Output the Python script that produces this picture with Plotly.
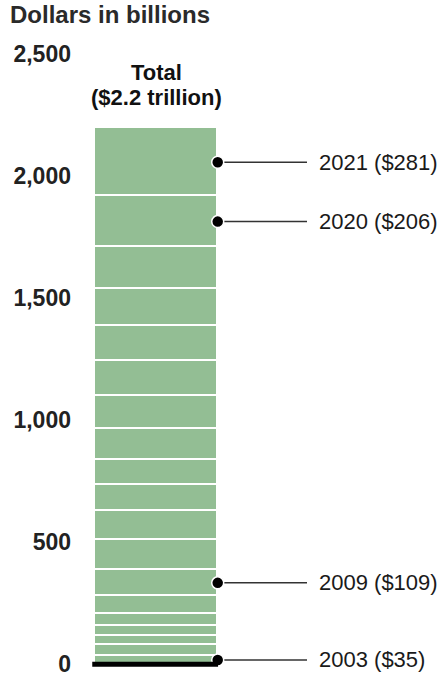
import plotly.graph_objects as go
import numpy as np

# ---- data ----
years = list(range(2003, 2022))
values = [35, 43, 38, 41, 49, 73, 109, 121, 118, 107, 105, 124, 138, 143, 141, 152, 174, 206, 281]
labeled_years = [2003, 2009, 2020, 2021]
tick_vals = [0, 500, 1000, 1500, 2000, 2500]
tick_text = ["0", "500", "1,000", "1,500", "2,000", "2,500"]
title_text = "Dollars in billions"
total_text = ["Total", "($2.2 trillion)"]

GREEN = "#93BE94"
FONT = "Liberation Sans, Arial, sans-serif"

cum = np.cumsum(values)
bottoms = cum - np.array(values)
mids = bottoms + np.array(values) / 2.0
total = cum[-1]

fig = go.Figure()

for yr, v in zip(years, values):
    fig.add_trace(go.Bar(
        x=[0], y=[v], width=1, name=str(yr),
        marker=dict(color=GREEN, line=dict(color="white", width=1.6)),
        hoverinfo="skip", showlegend=False,
    ))

# baseline at zero
fig.add_shape(type="line", xref="x", yref="y", x0=-0.52, x1=0.503, y0=0, y1=0,
              line=dict(color="black", width=5), layer="above")

XMIN = -0.6846
XMAX = 2.3398
LEAD_END = 1.226
LABEL_X = 1.3154
for yr in labeled_years:
    i = years.index(yr)
    ym = mids[i]
    fig.add_trace(go.Scatter(
        x=[0.5, LEAD_END], y=[ym, ym], mode="lines",
        line=dict(color="#333333", width=1.5),
        hoverinfo="skip", showlegend=False, cliponaxis=False,
    ))
    fig.add_trace(go.Scatter(
        x=[0.5], y=[ym], mode="markers",
        marker=dict(color="black", size=12, line=dict(color="white", width=1.5)),
        hoverinfo="skip", showlegend=False, cliponaxis=False,
    ))
    fig.add_annotation(
        x=LABEL_X, y=ym, xref="x", yref="y", text=f"{yr} (${values[i]})",
        showarrow=False, xanchor="left", yanchor="middle", borderpad=0,
        font=dict(family=FONT, size=22, color="#1a1a1a"),
    )

fig.add_annotation(x=0, y=total, xref="x", yref="y", text=total_text[0], showarrow=False,
                   xanchor="center", yanchor="middle", yshift=55,
                   font=dict(family=FONT, size=22, color="#111111", weight="bold"))
fig.add_annotation(x=0, y=total, xref="x", yref="y", text=total_text[1], showarrow=False,
                   xanchor="center", yanchor="middle", yshift=30,
                   font=dict(family=FONT, size=22, color="#111111", weight="bold"))

fig.update_layout(
    width=444, height=678,
    margin=dict(l=72, r=0, t=42, b=4),
    paper_bgcolor="white", plot_bgcolor="white",
    barmode="stack", bargap=0,
    title=dict(text=title_text, xref="container", yref="container",
               x=10 / 444, y=1 - 15 / 678, xanchor="left", yanchor="middle",
               font=dict(family=FONT, size=24, color="#2a2a2a", weight="bold")),
    xaxis=dict(range=[XMIN, XMAX], visible=False, fixedrange=True),
    yaxis=dict(range=[-40, 2550], tickvals=tick_vals, ticktext=tick_text,
               showgrid=False, zeroline=False, showline=False, ticks="",
               tickfont=dict(family=FONT, size=23, color="#222222", weight="bold"),
               fixedrange=True),
)

fig.write_html("out.html", config={"displayModeBar": False},
               post_script="document.body.style.margin='0';document.body.style.overflow='hidden';")
